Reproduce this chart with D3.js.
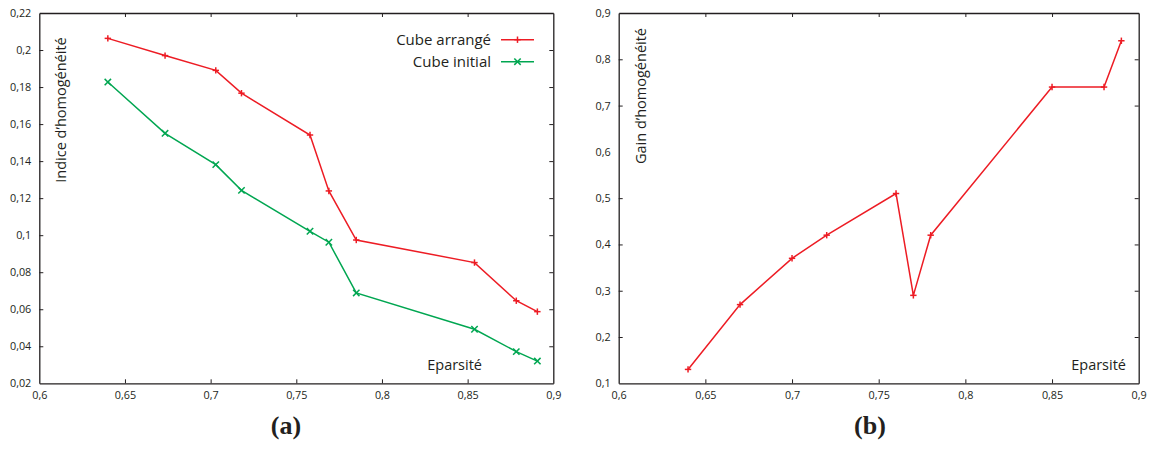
<!DOCTYPE html>
<html lang="fr">
<head>
<meta charset="UTF-8">
<title>Eparsité</title>
<script src="https://d3js.org/d3.v7.min.js"></script>
<style>
  body { margin: 0; background: #fff; }
  text { font-family: "Open Sans", "Noto Sans", sans-serif; fill: #231f20; }
</style>
</head>
<body>
<script>
// chart (a)
const sparsityA = [0.64, 0.6734, 0.703, 0.718, 0.758, 0.769, 0.785, 0.854, 0.8784, 0.8907];
const arranged = [0.2063, 0.197, 0.189, 0.1767, 0.1541, 0.1239, 0.0974, 0.0852, 0.0646, 0.0587];
const initial = [0.1827, 0.155, 0.1381, 0.1242, 0.1021, 0.0962, 0.0688, 0.0492, 0.0371, 0.032];
// chart (b)
const sparsityB = [0.64, 0.67, 0.70, 0.72, 0.76, 0.77, 0.78, 0.85, 0.88, 0.89];
const gain = [0.13, 0.27, 0.37, 0.42, 0.51, 0.29, 0.42, 0.74, 0.74, 0.84];

const xTicks = [0.6, 0.65, 0.7, 0.75, 0.8, 0.85, 0.9];
const yTicksA = [0.02, 0.04, 0.06, 0.08, 0.1, 0.12, 0.14, 0.16, 0.18, 0.2, 0.22];
const yTicksB = [0.1, 0.2, 0.3, 0.4, 0.5, 0.6, 0.7, 0.8, 0.9];

const red = "#ed1c24", green = "#00a651";
const fmt = d => String(+d.toFixed(2)).replace(".", ",");

const svg = d3.select("body").append("svg")
  .attr("width", 1155).attr("height", 449);

function panel(left, right, yDomain, yTicks, yTitle, titleY, xTitleEnd) {
  const x = d3.scaleLinear().domain([0.6, 0.9]).range([left, right]);
  const y = d3.scaleLinear().domain(yDomain).range([383.3, 13]);
  const g = svg.append("g");
  const tk = 4;

  g.append("g").attr("transform", "translate(0,383.3)")
    .call(d3.axisBottom(x).tickValues(xTicks).tickFormat(fmt).tickSizeInner(-tk).tickSizeOuter(0).tickPadding(8));
  g.append("g").attr("transform", "translate(0,13)")
    .call(d3.axisTop(x).tickValues(xTicks).tickFormat("").tickSizeInner(-tk).tickSizeOuter(0));
  g.append("g").attr("transform", `translate(${left},0)`)
    .call(d3.axisLeft(y).tickValues(yTicks).tickFormat(fmt).tickSizeInner(-tk).tickSizeOuter(0).tickPadding(8));
  g.append("g").attr("transform", `translate(${right},0)`)
    .call(d3.axisRight(y).tickValues(yTicks).tickFormat("").tickSizeInner(-tk).tickSizeOuter(0));

  g.selectAll(".domain").attr("stroke", "#231f20").attr("stroke-width", 1.3);
  g.selectAll(".tick line").attr("stroke", "#231f20").attr("stroke-width", 1);
  g.selectAll(".tick text").style("font-size", "10.8px").attr("fill", "#231f20")
    .style("font-family", "'Open Sans', sans-serif");
  // no tick marks on the frame corners
  g.selectAll(".tick").filter(d => d === xTicks[0] || d === xTicks[xTicks.length - 1] || d === yTicks[0] || d === yTicks[yTicks.length - 1])
    .select("line").remove();

  g.append("text")
    .attr("transform", `translate(${left + 27},${titleY}) rotate(-90)`)
    .attr("text-anchor", "middle")
    .style("font-size", "14.5px")
    .text(yTitle);

  g.append("text")
    .attr("x", xTitleEnd).attr("y", 370)
    .attr("text-anchor", "end")
    .style("font-size", "14.5px")
    .text("Eparsité");

  return { x, y, g };
}

function series(p, xs, ys, color, marker) {
  const pts = xs.map((d, i) => [p.x(d), p.y(ys[i])]);
  p.g.append("path").attr("d", d3.line()(pts))
    .attr("fill", "none").attr("stroke", color).attr("stroke-width", 1.5);
  pts.forEach(([cx, cy]) => drawMarker(p.g, cx, cy, color, marker));
}

function drawMarker(g, cx, cy, color, marker) {
  const s = 3.2;
  const segs = marker === "plus"
    ? [[cx - s, cy, cx + s, cy], [cx, cy - s, cx, cy + s]]
    : [[cx - s, cy - s, cx + s, cy + s], [cx - s, cy + s, cx + s, cy - s]];
  segs.forEach(([x1, y1, x2, y2]) => g.append("line")
    .attr("x1", x1).attr("y1", y1).attr("x2", x2).attr("y2", y2)
    .attr("stroke", color).attr("stroke-width", 1.5));
}

const pa = panel(39.3, 553.3, [0.02, 0.22], yTicksA, "Indice d\u2019homogénéité", 110, 482);
series(pa, sparsityA, arranged, red, "plus");
series(pa, sparsityA, initial, green, "cross");

// legend
const legend = [["Cube arrangé", red, "plus"], ["Cube initial", green, "cross"]];
legend.forEach(([label, color, marker], i) => {
  const ly = 39.7 + i * 22;
  pa.g.append("text").attr("x", 491).attr("y", ly + 5).attr("text-anchor", "end")
    .style("font-size", "15px").text(label);
  pa.g.append("line").attr("x1", 501).attr("x2", 534).attr("y1", ly).attr("y2", ly)
    .attr("stroke", color).attr("stroke-width", 1.5);
  drawMarker(pa.g, 517.5, ly, color, marker);
});

const pb = panel(618.7, 1138.7, [0.1, 0.9], yTicksB, "Gain d\u2019homogénéité", 96, 1126);
series(pb, sparsityB, gain, red, "plus");

// sub-figure captions
[["(a)", 286], ["(b)", 870]].forEach(([t, cx]) => {
  svg.append("text").attr("x", cx).attr("y", 434).attr("text-anchor", "middle")
    .style("font-family", "'Liberation Serif', serif").style("font-weight", "bold")
    .style("font-size", "26px").attr("fill", "#000").text(t);
});
</script>
</body>
</html>
